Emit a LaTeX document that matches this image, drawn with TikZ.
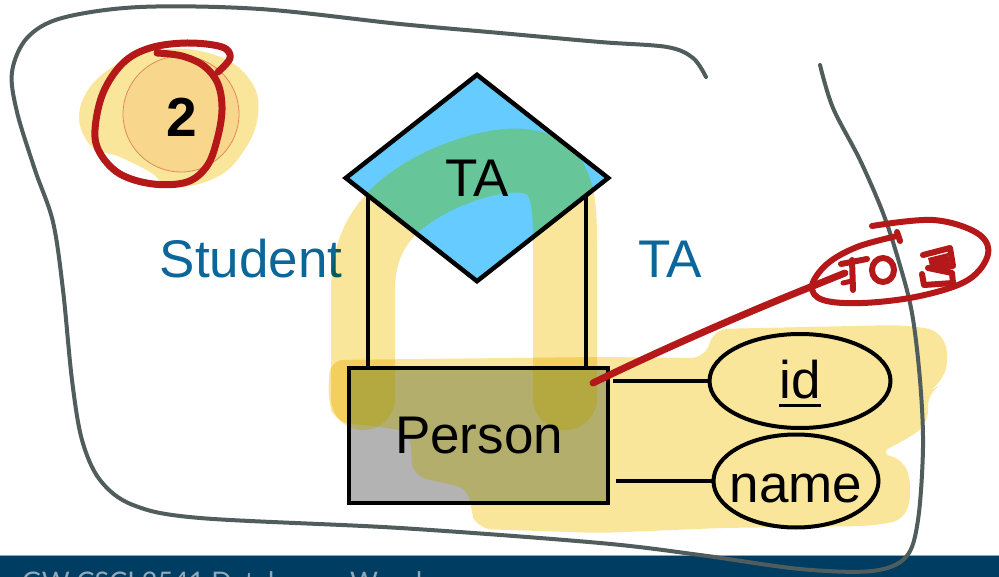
\documentclass[tikz,border=0pt]{standalone}
\usepackage{fontspec}
\setmainfont{Liberation Sans}
\newfontfamily\barfont{Lato}
\usetikzlibrary{shapes.geometric}
\definecolor{hl}{HTML}{F9E69A}
\definecolor{hltwo}{HTML}{FFF899}
\definecolor{dia}{HTML}{66CCFF}
\definecolor{pgray}{HTML}{B3B3B3}
\definecolor{lblue}{HTML}{0B6699}
\definecolor{outl}{HTML}{515C5C}
\definecolor{redp}{HTML}{B51818}
\definecolor{barc}{HTML}{003D62}
\definecolor{bartext}{HTML}{8FA8BA}
\definecolor{circ}{HTML}{F8D68C}
\definecolor{circe}{HTML}{E08A5E}
\tikzset{
  big/.style={font=\fontsize{53}{60}\selectfont, inner sep=0pt},
  blk/.style={draw=black, line width=4.5pt},
  hil/.style={blend mode=multiply},
  redpen/.style={draw=redp, line width=7pt, line cap=round, line join=round},
  grayoutline/.style={draw=outl, line width=4pt, line cap=round, line join=round},
}
\newcommand{\myhlband}[1]{\fill[#1, hil, rounded corners=14pt] (330,360) -- (600,357) -- (705,358) -- (714,329) -- (900,325) -- (940,330) -- (950,358) -- (940,385) -- (928,392) -- (928,425) -- (900,443) -- (878,453) -- (905,460) -- (912,490) -- (905,520) -- (870,526) -- (720,528) -- (600,533) -- (478,529) -- (470,510) -- (470,489) -- (440,482) -- (413,476) -- (411,455) -- (411,433) -- (390,428) -- (335,422) -- (328,400) -- cycle;}
\newcommand{\myhlarch}[1]{\draw[#1, hil, line width=64pt, line cap=round, line join=round] (363,398) -- (363,290) .. controls (363,232) and (395,200) .. (450,176) .. controls (490,160) and (530,153) .. (550,172) .. controls (565,188) and (565,215) .. (565,250) -- (565,398);}
\begin{document}
\begin{tikzpicture}[x=1pt,y=-1pt]
\useasboundingbox (0,0) rectangle (999,577);
\fill[white] (0,0) rectangle (999,577);
% footer bar
\fill[barc] (0,555) rectangle (999,577);
\draw[bartext, line width=1pt] (0,555.5) -- (999,555.5);
\begin{scope}
\clip (0,555) rectangle (999,577);
\node[anchor=base west, text=bartext, font=\barfont\fontsize{27}{30}\selectfont, inner sep=0pt] (footer) at (22,591) {GW CSCI 2541 Databases: Wood};
\end{scope}
% yellow blob behind the number
\fill[hl] plot[smooth cycle, tension=0.7] coordinates {(80,108) (108,70) (160,50) (215,55) (250,80) (258,115) (243,152) (215,178) (172,187) (150,172) (120,157) (90,145)};
\node[circle, fill=circ, draw=circe, line width=0.8pt, minimum size=116pt, inner sep=0pt] (num) at (181,114) {};
\node[font=\bfseries\fontsize{55}{60}\selectfont, inner sep=0pt] (numtext) at (182,117) {2};
% labels
\node[big, text=lblue, anchor=base] (student) at (251,278) {Student};
\node[big, text=lblue, anchor=base] (talabel) at (670,278) {TA};
% fills
\node[diamond, fill=dia, minimum width=262pt, minimum height=206pt, inner sep=0pt, aspect=1.27] (ta) at (477,178) {};
\node[fill=pgray, minimum width=259pt, minimum height=135pt, inner sep=0pt] (person) at (478.5,435.5) {};
% highlights
\myhlband{hl}
\myhlarch{hl}
\begin{scope}
\clip (person.north west) rectangle (person.south east);
\fill[pgray] (person.north west) rectangle (person.south east);
\myhlband{hltwo}
\myhlarch{hltwo}
\end{scope}
\begin{scope}
\clip (ta.north) -- (ta.east) -- (ta.south) -- (ta.west) -- cycle;
\fill[dia] (ta.north) -- (ta.east) -- (ta.south) -- (ta.west) -- cycle;
\myhlarch{hltwo}
\end{scope}
% borders
\draw[blk, line join=miter] (ta.north) -- (ta.east) -- (ta.south) -- (ta.west) -- cycle;
\draw[blk] (person.north west) rectangle (person.south east);
\node[big] (persontext) at (479,436) {Person};
\node[big] (tatext) at (477,178) {TA};
\coordinate (lt) at (368,195.5);
\coordinate (rt) at (586,195.5);
\draw[draw=black, line width=4pt] (lt) -- (lt |- person.north);
\draw[draw=black, line width=4pt] (rt) -- (rt |- person.north);
% attributes
\node[ellipse, blk, line width=4pt, minimum width=181pt, minimum height=94pt, inner sep=0pt] (id) at (800,381) {};
\node[big, anchor=base] (idtext) at (800,398) {id};
\draw[black, line width=3pt] ([yshift=-7pt]idtext.base west) -- ([yshift=-7pt]idtext.base east);
\node[ellipse, blk, line width=4pt, minimum width=165pt, minimum height=93pt, inner sep=0pt] (name) at (796,481) {};
\node[big, anchor=base] (nametext) at (796,502) {name};
\draw[black, line width=4pt] ([xshift=5pt]person.east |- id.west) -- (id.west);
\draw[black, line width=4pt] ([xshift=8pt]person.east |- name.west) -- (name.west);
% gray hand-drawn outline
\draw[grayoutline] plot[smooth, tension=0.55] coordinates {(706,77) (693,58) (667,47) (600,42) (500,33) (400,24) (260,9) (140,7) (62,18) (27,38) (12,72) (17,112) (35,170) (53,222) (63,290) (72,380) (82,440) (100,480) (133,505) (200,518) (400,528) (600,543) (700,555) (800,569) (872,571) (906,557) (918,520) (923,447) (920,380) (912,313) (899,262) (883,213) (860,160) (833,108) (820,65)};
% red annotations
\draw[redpen] plot[smooth, tension=0.6] coordinates {(157,53) (182,56) (204,66) (218,84) (222,110) (217,140) (207,166) (187,182) (153,184) (120,174) (100,153) (95,130) (103,93) (123,63) (150,48) (187,43) (222,47) (230,58) (218,72)};
\draw[redpen] (593,383) .. controls (650,355) and (740,315) .. (813,286) -- (845,273);
\draw[redpen, line width=6pt] plot[smooth, tension=0.6] coordinates {(872,226) (933,220) (977,233) (988,254) (968,280) (920,296) (863,303) (823,300) (812,286) (827,264) (857,247) (897,236)};
\draw[redpen, line width=6pt] (841,264) -- (867,259);
\draw[redpen, line width=6pt] (852,260) -- (853,290);
\draw[redpen, line width=5pt] (843,283) -- (852,281);
\draw[redpen, line width=6pt] (883,270) ellipse [x radius=11pt, y radius=12pt];
\draw[redpen, line width=6pt] (897,232) -- (900,241);
\draw[redpen, line width=6pt] (923,255) -- (950,248) -- (953,266) -- (928,268) -- (952,273) -- (953,283) -- (924,285) -- (922,274);
\fill[redp] (928,258) -- (948,253) -- (950,264) -- (930,266) -- cycle;
\end{tikzpicture}
\end{document}
